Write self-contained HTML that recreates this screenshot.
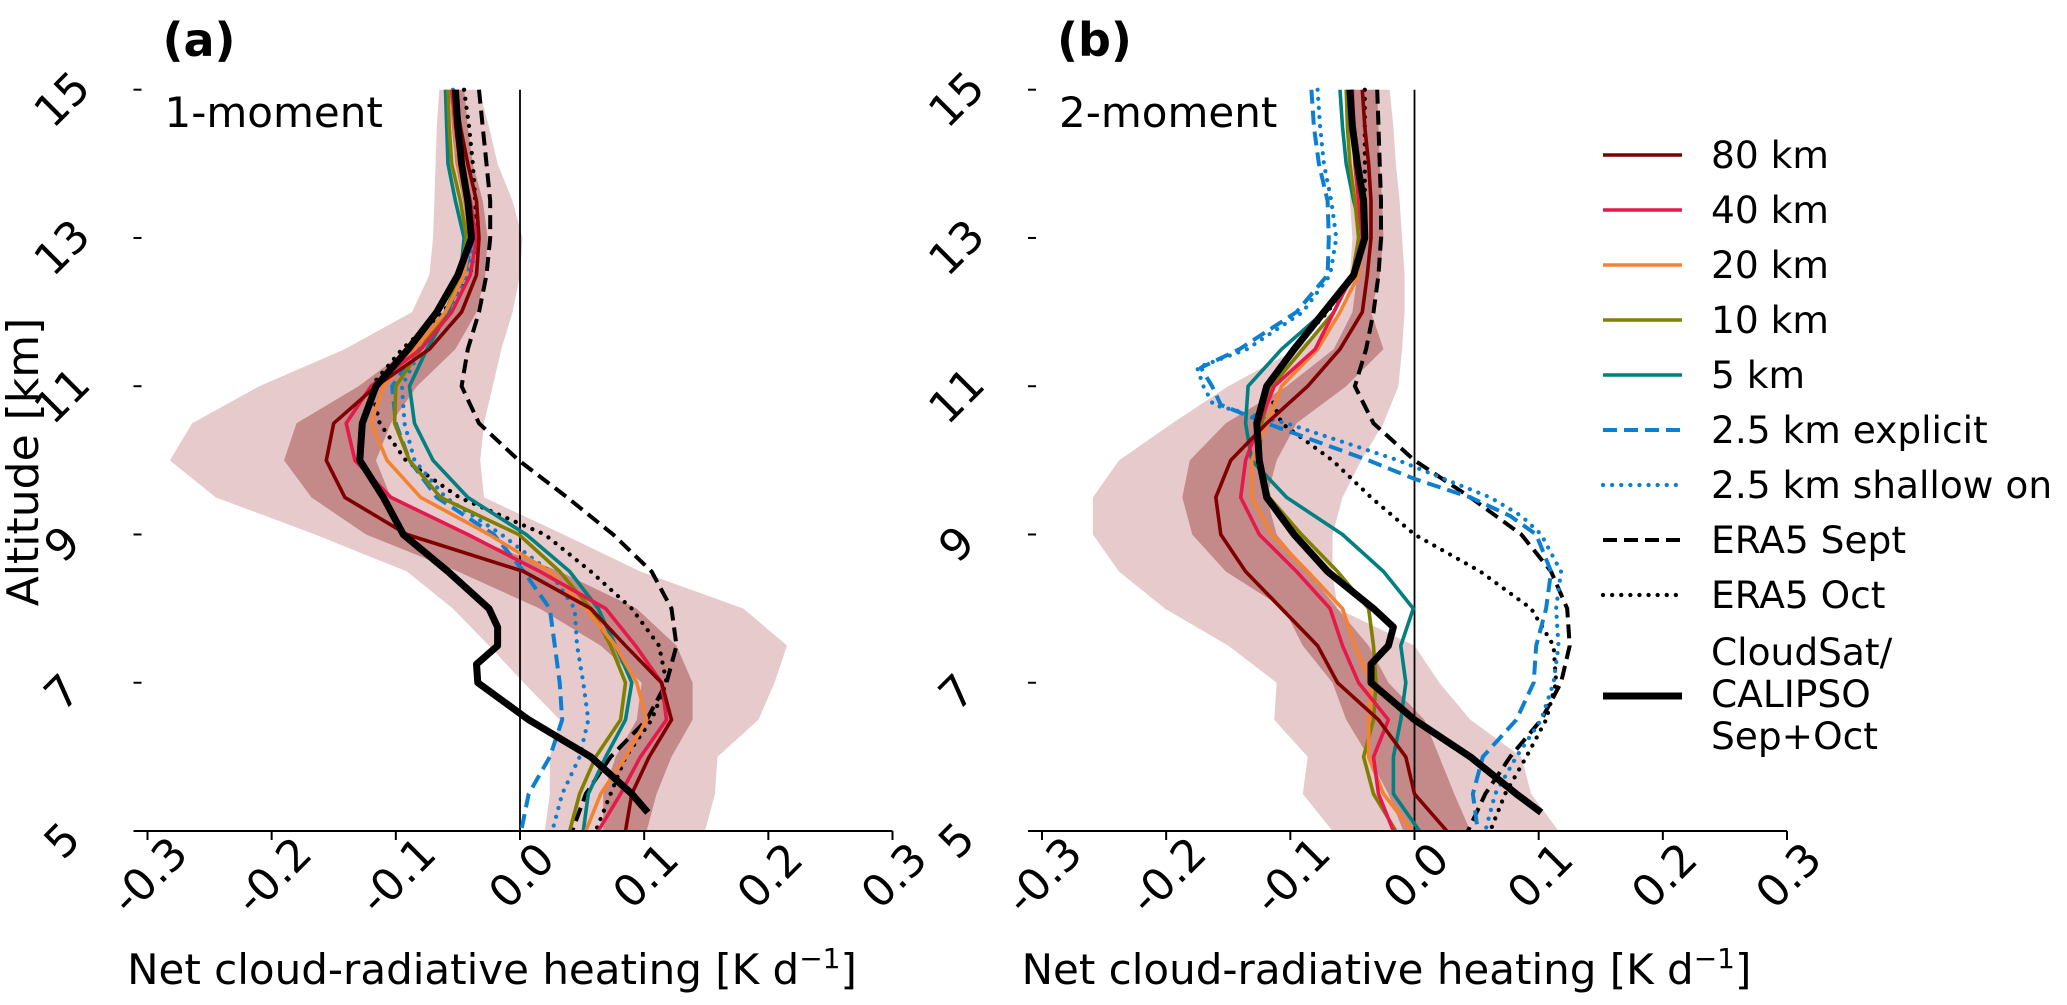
<!DOCTYPE html>
<html><head><meta charset="utf-8"><title>Net cloud-radiative heating profiles</title>
<style>
html,body{margin:0;padding:0;background:#fff;}
svg{display:block;font-family:"DejaVu Sans","Liberation Sans",sans-serif;}
</style></head>
<body>
<svg id="fig" xmlns="http://www.w3.org/2000/svg" width="2067" height="1005" viewBox="0 0 2067 1005">
<rect width="2067" height="1005" fill="#fff"/>
<g id="panelA"></g>
<g id="panelB"></g>
<g id="legend"></g>
</svg>
<script>
// ---- data ----
const alts = [15,14.5,14,13.5,13,12.5,12,11.5,11,10.5,10,9.5,9,8.5,8,7.5,7,6.5,6,5.5,5];
const csAlts = [15,14.5,14,13.5,13,12.5,12,11.5,11,10.5,10,9.5,9,8.5,8,7.75,7.5,7.25,7,6.5,6,5.5,5.25];
const fineAlts = [15,14.5,14,13.5,13,12.5,12,11.5,11.25,11,10.75,10.5,10,9.75,9.5,9.25,9,8.5,8,7.5,7,6.5,6,5.5,5];
const xTicks = [-0.3,-0.2,-0.1,0.0,0.1,0.2,0.3];
const xTickLabels = ["-0.3","-0.2","-0.1","0.0","0.1","0.2","0.3"];
const yTicks = [5,7,9,11,13,15];
const yTickLabels = ["5","7","9","11","13","15"];

// panel (a) 1-moment
const a80 = [-0.053,-0.048,-0.042,-0.035,-0.033,-0.035,-0.047,-0.073,-0.116,-0.150,-0.156,-0.141,-0.091,0.003,0.057,0.085,0.114,0.122,0.104,0.090,0.085];
const a40 = [-0.055,-0.052,-0.048,-0.040,-0.035,-0.040,-0.055,-0.080,-0.120,-0.140,-0.133,-0.104,-0.042,0.016,0.069,0.093,0.114,0.118,0.097,0.081,0.063];
const a20 = [-0.055,-0.053,-0.050,-0.044,-0.040,-0.045,-0.060,-0.085,-0.110,-0.120,-0.107,-0.080,-0.025,0.024,0.053,0.077,0.094,0.102,0.085,0.065,0.053];
const a10 = [-0.058,-0.057,-0.055,-0.048,-0.043,-0.048,-0.060,-0.080,-0.100,-0.101,-0.089,-0.064,-0.001,0.032,0.057,0.073,0.085,0.081,0.061,0.048,0.040];
const a5 = [-0.060,-0.059,-0.058,-0.052,-0.045,-0.048,-0.058,-0.075,-0.089,-0.085,-0.070,-0.042,0.005,0.040,0.063,0.077,0.090,0.085,0.069,0.055,0.051];
const a25e = [-0.055,-0.053,-0.050,-0.044,-0.038,-0.045,-0.060,-0.082,-0.103,-0.100,-0.089,-0.067,-0.021,0.003,0.024,0.028,0.032,0.034,0.024,0.007,0.001];
const a25s = [-0.054,-0.052,-0.049,-0.043,-0.037,-0.043,-0.058,-0.080,-0.095,-0.093,-0.085,-0.060,-0.015,0.024,0.044,0.046,0.051,0.055,0.048,0.034,0.026];
const aSep = [-0.033,-0.030,-0.027,-0.024,-0.024,-0.027,-0.033,-0.042,-0.047,-0.033,-0.001,0.038,0.075,0.106,0.122,0.126,0.118,0.102,0.073,0.053,0.042];
const aOct = [-0.045,-0.041,-0.038,-0.036,-0.035,-0.040,-0.062,-0.095,-0.120,-0.113,-0.092,-0.049,0.020,0.057,0.090,0.112,0.118,0.106,0.085,0.073,0.061];
const aCS = [-0.052,-0.050,-0.047,-0.042,-0.039,-0.050,-0.067,-0.090,-0.116,-0.127,-0.129,-0.110,-0.094,-0.058,-0.025,-0.018,-0.018,-0.035,-0.034,0.007,0.057,0.090,0.103];
const aOutL = [-0.065,-0.067,-0.068,-0.069,-0.070,-0.073,-0.087,-0.141,-0.210,-0.264,-0.282,-0.245,-0.165,-0.091,-0.054,-0.025,0.003,0.032,0.024,0.024,0.020];
const aOutR = [-0.033,-0.025,-0.018,-0.006,0.002,0.000,-0.006,-0.015,-0.022,-0.029,-0.032,-0.029,0.035,0.097,0.180,0.215,0.205,0.192,0.159,0.157,0.149];
const aInL = [-0.056,-0.055,-0.052,-0.046,-0.042,-0.048,-0.062,-0.090,-0.130,-0.180,-0.190,-0.168,-0.124,-0.050,0.016,0.065,0.098,0.094,0.077,0.067,0.067];
const aInR = [-0.045,-0.042,-0.038,-0.030,-0.026,-0.028,-0.035,-0.052,-0.083,-0.104,-0.116,-0.104,-0.045,0.032,0.094,0.126,0.139,0.139,0.122,0.110,0.102];

// panel (b) 2-moment
const b80 = [-0.042,-0.040,-0.037,-0.035,-0.035,-0.038,-0.042,-0.060,-0.086,-0.119,-0.148,-0.160,-0.156,-0.136,-0.107,-0.078,-0.062,-0.029,-0.007,0.000,0.026];
const b40 = [-0.050,-0.049,-0.048,-0.045,-0.042,-0.050,-0.065,-0.080,-0.113,-0.125,-0.136,-0.140,-0.125,-0.095,-0.068,-0.058,-0.045,-0.021,-0.033,-0.029,-0.017];
const b20 = [-0.050,-0.049,-0.048,-0.045,-0.042,-0.045,-0.060,-0.078,-0.107,-0.119,-0.131,-0.131,-0.115,-0.086,-0.058,-0.048,-0.035,-0.037,-0.037,-0.025,-0.002];
const b10 = [-0.055,-0.054,-0.052,-0.048,-0.045,-0.050,-0.065,-0.090,-0.115,-0.123,-0.125,-0.117,-0.091,-0.062,-0.037,-0.033,-0.031,-0.033,-0.041,-0.033,-0.015];
const b5 = [-0.060,-0.058,-0.055,-0.049,-0.041,-0.049,-0.073,-0.107,-0.134,-0.136,-0.131,-0.103,-0.058,-0.025,-0.001,-0.011,-0.007,-0.011,-0.017,-0.017,0.004];
const b25e = [-0.083,-0.081,-0.077,-0.070,-0.069,-0.070,-0.095,-0.141,-0.172,-0.163,-0.156,-0.119,-0.037,0.000,0.045,0.077,0.098,0.110,0.106,0.098,0.096,0.082,0.055,0.047,0.051];
const b25s = [-0.078,-0.076,-0.073,-0.067,-0.063,-0.068,-0.090,-0.135,-0.175,-0.170,-0.162,-0.103,-0.013,0.024,0.061,0.086,0.102,0.118,0.114,0.116,0.112,0.102,0.082,0.065,0.057];
const bSep = [-0.030,-0.029,-0.028,-0.027,-0.027,-0.029,-0.033,-0.039,-0.048,-0.033,0.000,0.045,0.086,0.110,0.123,0.125,0.118,0.102,0.077,0.057,0.043];
const bOct = [-0.040,-0.040,-0.040,-0.040,-0.040,-0.050,-0.070,-0.098,-0.119,-0.107,-0.066,-0.035,0.000,0.053,0.094,0.112,0.114,0.106,0.090,0.073,0.061];
const bCS = [-0.052,-0.050,-0.046,-0.041,-0.040,-0.049,-0.073,-0.097,-0.119,-0.127,-0.125,-0.119,-0.097,-0.070,-0.033,-0.017,-0.021,-0.035,-0.035,0.000,0.045,0.082,0.102];
const bOutL = [-0.055,-0.054,-0.053,-0.052,-0.050,-0.052,-0.058,-0.095,-0.150,-0.195,-0.238,-0.259,-0.259,-0.238,-0.201,-0.150,-0.111,-0.113,-0.086,-0.090,-0.066];
const bOutR = [-0.020,-0.017,-0.015,-0.012,-0.010,-0.008,-0.008,-0.010,-0.013,-0.025,-0.043,-0.058,-0.066,-0.066,-0.062,0.000,0.020,0.045,0.086,0.094,0.116];
const bInL = [-0.052,-0.050,-0.048,-0.045,-0.043,-0.046,-0.050,-0.065,-0.103,-0.152,-0.181,-0.187,-0.179,-0.152,-0.105,-0.090,-0.066,-0.055,-0.037,-0.021,-0.009];
const bInR = [-0.030,-0.029,-0.028,-0.026,-0.025,-0.028,-0.035,-0.025,-0.055,-0.095,-0.111,-0.119,-0.111,-0.086,-0.062,-0.037,-0.021,0.008,0.020,0.032,0.045];

const seriesNames = ["80 km","40 km","20 km","10 km","5 km","2.5 km explicit","2.5 km shallow on","ERA5 Sept","ERA5 Oct"];

// ---- scales ----
const Y5 = 831, PXKM = 74.13, PXK = 1241.7;
function yS(a){ return Y5 - (a-5)*PXKM; }
function xA(v){ return 520 + v*PXK; }
function xB(v){ return 1414.5 + v*PXK; }

const NS = "http://www.w3.org/2000/svg";
function mk(tag, attrs, parent){
  const e = document.createElementNS(NS, tag);
  for (const k in attrs) e.setAttribute(k, attrs[k]);
  parent.appendChild(e);
  return e;
}
const styles = {
  "80 km": {c:"#800000", w:3.6, d:null},
  "40 km": {c:"#e6194b", w:3.6, d:null},
  "20 km": {c:"#f58231", w:3.6, d:null},
  "10 km": {c:"#808000", w:3.6, d:null},
  "5 km": {c:"#008080", w:3.6, d:null},
  "2.5 km explicit": {c:"#0c7fd0", w:4, d:"14,7"},
  "2.5 km shallow on": {c:"#0c7fd0", w:4.2, d:"0.1,9", cap:"round"},
  "ERA5 Sept": {c:"#000", w:4, d:"14,7"},
  "ERA5 Oct": {c:"#000", w:4.2, d:"0.1,9", cap:"round"},
  "CloudSat": {c:"#000", w:7, d:null}
};

function drawPanel(g, xf, tag, label, bands, series, cs){
  const [oL,oR,iL,iR] = bands;
  let pts = alts.map((a,i)=>xf(oL[i])+","+yS(a)).concat(alts.slice().reverse().map((a,j)=>xf(oR[alts.length-1-j])+","+yS(a)));
  const ob = mk("polygon",{points:pts.join(" "),fill:"#e6cacc",stroke:"none"},g);
  
  
  pts = alts.map((a,i)=>xf(iL[i])+","+yS(a)).concat(alts.slice().reverse().map((a,j)=>xf(iR[alts.length-1-j])+","+yS(a)));
  const ib = mk("polygon",{points:pts.join(" "),fill:"#c48a8a",stroke:"none"},g);
  
  
  const zl = mk("line",{x1:xf(0),x2:xf(0),y1:yS(15),y2:yS(5),stroke:"#000","stroke-width":1.8},g);
  
  
  series.forEach(s=>{
    const st = styles[s.name];
    const p = s.alts.map((a,i)=>xf(s.vals[i]).toFixed(1)+","+yS(a).toFixed(1)).join(" ");
    const at = {points:p,fill:"none",stroke:st.c,"stroke-width":st.w,"stroke-linejoin":"round","stroke-linecap":st.cap||"butt"};
    if (st.d) at["stroke-dasharray"] = st.d;
    const pl = mk("polyline",at,g);
    
    
  });
  const cp = csAlts.map((a,i)=>xf(cs[i]).toFixed(1)+","+yS(a).toFixed(1)).join(" ");
  const cl = mk("polyline",{points:cp,fill:"none",stroke:"#000","stroke-width":7,"stroke-linejoin":"round"},g);
  
  
  const sp = mk("line",{x1:xf(-0.3)-6,x2:xf(0.3),y1:Y5,y2:Y5,stroke:"#000","stroke-width":2},g);
  
  
  xTicks.forEach((v,i)=>{
    const t = mk("line",{x1:xf(v),x2:xf(v),y1:Y5,y2:Y5+9,stroke:"#000","stroke-width":2},g);
    
    
    const cx = xf(v)+2, cy = 876;
    const tx = mk("text",{x:cx,y:cy,"font-size":44,"text-anchor":"middle","dominant-baseline":"central",transform:"rotate(-45 "+cx+" "+cy+")"},g);
    tx.textContent = xTickLabels[i];
    
    
  });
  yTicks.forEach((v,i)=>{
    const x0 = xf(-0.3)-14;
    const t = mk("line",{x1:x0,x2:x0+8,y1:yS(v),y2:yS(v),stroke:"#000","stroke-width":2},g);
    
    
    const cx = xf(-0.3)-85, cy = yS(v)+10;
    const tx = mk("text",{x:cx,y:cy,"font-size":44,"text-anchor":"middle","dominant-baseline":"central",transform:"rotate(-45 "+cx+" "+cy+")"},g);
    tx.textContent = yTickLabels[i];
    
    
  });
  const pl = mk("text",{x:xf(-0.3)+15,y:56,"font-size":46,"font-weight":"bold"},g);
  pl.textContent = label[0];
  
  
  const sl = mk("text",{x:xf(-0.3)+17,y:127,"font-size":42},g);
  sl.textContent = label[1];
  
  
  const xl = mk("text",{x:xf(0)-28,y:984,"font-size":42,"text-anchor":"middle"},g);
  xl.appendChild(document.createTextNode("Net cloud-radiative heating [K d"));
  const sup = mk("tspan",{"baseline-shift":"super","font-size":28},xl);
  sup.textContent = "−1";
  const tail = mk("tspan",{},xl);
  tail.textContent = "]";
  
  
}

const gA = document.getElementById("panelA");
const gB = document.getElementById("panelB");
drawPanel(gA, xA, "a", ["(a)","1-moment"], [aOutL,aOutR,aInL,aInR], [
  {name:"ERA5 Sept",alts:alts,vals:aSep},{name:"ERA5 Oct",alts:alts,vals:aOct},
  {name:"2.5 km explicit",alts:alts,vals:a25e},{name:"2.5 km shallow on",alts:alts,vals:a25s},
  {name:"5 km",alts:alts,vals:a5},{name:"10 km",alts:alts,vals:a10},{name:"20 km",alts:alts,vals:a20},
  {name:"40 km",alts:alts,vals:a40},{name:"80 km",alts:alts,vals:a80}], aCS);
drawPanel(gB, xB, "b", ["(b)","2-moment"], [bOutL,bOutR,bInL,bInR], [
  {name:"ERA5 Sept",alts:alts,vals:bSep},{name:"ERA5 Oct",alts:alts,vals:bOct},
  {name:"2.5 km explicit",alts:fineAlts,vals:b25e},{name:"2.5 km shallow on",alts:fineAlts,vals:b25s},
  {name:"5 km",alts:alts,vals:b5},{name:"10 km",alts:alts,vals:b10},{name:"20 km",alts:alts,vals:b20},
  {name:"40 km",alts:alts,vals:b40},{name:"80 km",alts:alts,vals:b80}], bCS);

const yt = mk("text",{x:0,y:0,"font-size":44,"text-anchor":"middle",transform:"translate(38 462) rotate(-90)"},gA);
yt.textContent = "Altitude [km]";



const gL = document.getElementById("legend");
seriesNames.forEach((n,i)=>{
  const y = 155 + i*55;
  const st = styles[n];
  const at = {x1:1603,x2:1682,y1:y,y2:y,stroke:st.c,"stroke-width":st.w,"stroke-linecap":st.cap||"butt"};
  if (st.d) at["stroke-dasharray"] = st.d;
  const ln = mk("line",at,gL);
  
  
  const tx = mk("text",{x:1711,y:y,"font-size":37.5,"dominant-baseline":"central"},gL);
  tx.textContent = n;
  
  
});
const csl = mk("line",{x1:1603,x2:1682,y1:696,y2:696,stroke:"#000","stroke-width":7},gL);


["CloudSat/","CALIPSO","Sep+Oct"].forEach((t,i)=>{
  const tx = mk("text",{x:1711,y:652+i*42,"font-size":37.5,"dominant-baseline":"central"},gL);
  tx.textContent = t;
  
  
});
</script>
</body></html>
